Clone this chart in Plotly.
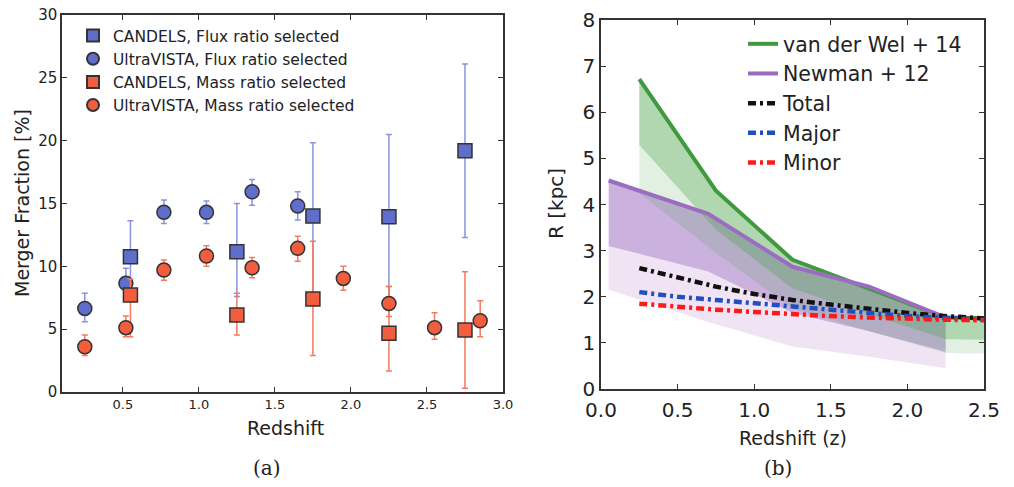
import plotly.graph_objects as go

# ---------------- Panel (a): merger fraction vs redshift ----------------
# CANDELS, flux ratio selected (blue squares)
cf_z = [0.55, 1.25, 1.75, 2.25, 2.75]
cf_f = [10.77, 11.16, 14.0, 13.95, 19.2]
cf_hi = [13.63, 15.0, 19.83, 20.5, 26.1]
cf_lo = [7.9, 7.6, 7.9, 7.5, 12.3]

# UltraVISTA, flux ratio selected (blue circles)
uf_z = [0.25, 0.52, 0.77, 1.05, 1.35, 1.65]
uf_f = [6.65, 8.65, 14.3, 14.3, 15.93, 14.8]
uf_hi = [7.85, 9.84, 15.27, 15.2, 16.9, 15.93]
uf_lo = [5.6, 7.6, 13.4, 13.4, 14.87, 13.68]

# CANDELS, mass ratio selected (orange squares)
cm_z = [0.55, 1.25, 1.75, 2.25, 2.75]
cm_f = [7.72, 6.13, 7.4, 4.67, 4.93]
cm_hi = [9.0, 7.85, 12.0, 8.4, 9.57]
cm_lo = [4.4, 4.53, 2.9, 1.67, 0.3]

# UltraVISTA, mass ratio selected (orange circles)
um_z = [0.25, 0.52, 0.77, 1.05, 1.35, 1.65, 1.95, 2.25, 2.55, 2.85]
um_f = [3.6, 5.12, 9.7, 10.82, 9.89, 11.43, 9.04, 7.05, 5.12, 5.67]
um_hi = [4.53, 6.05, 10.5, 11.64, 10.7, 12.4, 10.0, 8.4, 6.3, 7.26]
um_lo = [2.9, 4.4, 8.9, 10.0, 9.1, 10.4, 8.1, 6.0, 4.2, 4.4]

# ---------------- Panel (b): size evolution ----------------
vdw_z = [0.25, 0.75, 1.25, 1.75, 2.25, 2.75]
vdw_r = [6.72, 4.30, 2.80, 2.18, 1.55, 1.52]
vdw_lo1 = [5.29, 3.45, 2.18, 1.62, 1.08, 1.06]
vdw_lo2 = [4.25, 2.95, 1.75, 1.25, 0.78, 0.76]

new_z = [0.05, 0.70, 1.25, 1.75, 2.25]
new_r = [4.52, 3.80, 2.65, 2.22, 1.55]
new_lo1 = [3.10, 2.55, 1.65, 1.25, 0.81]
new_lo2 = [2.15, 1.45, 0.92, 0.70, 0.45]

mod_z = [0.25, 0.5, 0.75, 1.0, 1.25, 1.5, 1.75, 2.0, 2.25, 2.5]
tot_r = [2.62, 2.42, 2.22, 2.06, 1.93, 1.83, 1.73, 1.65, 1.58, 1.53]
maj_r = [2.10, 2.00, 1.93, 1.86, 1.78, 1.71, 1.64, 1.58, 1.54, 1.50]
min_r = [1.85, 1.78, 1.72, 1.67, 1.62, 1.58, 1.55, 1.52, 1.50, 1.49]

FONT = "DejaVu Sans"
BLUE = "#5f6ecb"
BLUE_ERR = "#8a93dc"
ORANGE = "#f25e3d"
ORANGE_ERR = "#f47a5e"
EDGE = "#333333"

W, H = 1014, 487


def fx(px):
    return px / W


def fy(py):
    return 1 - py / H


fig = go.Figure()


def err_trace(z, f, hi, lo, name, symbol, color, ecolor):
    return go.Scatter(
        x=z, y=f, mode="markers", name=name,
        marker=dict(symbol=symbol, size=14, color=color,
                    line=dict(color=EDGE, width=1.5)),
        error_y=dict(type="data", symmetric=False,
                     array=[h - v for h, v in zip(hi, f)],
                     arrayminus=[v - l for v, l in zip(f, lo)],
                     color=ecolor, thickness=1.5, width=3),
        xaxis="x", yaxis="y", legend="legend")


fig.add_trace(err_trace(cf_z, cf_f, cf_hi, cf_lo, "CANDELS, Flux ratio selected",
                        "square", BLUE, BLUE_ERR))
fig.add_trace(err_trace(uf_z, uf_f, uf_hi, uf_lo, "UltraVISTA, Flux ratio selected",
                        "circle", BLUE, BLUE_ERR))
fig.add_trace(err_trace(cm_z, cm_f, cm_hi, cm_lo, "CANDELS, Mass ratio selected",
                        "square", ORANGE, ORANGE_ERR))
fig.add_trace(err_trace(um_z, um_f, um_hi, um_lo, "UltraVISTA, Mass ratio selected",
                        "circle", ORANGE, ORANGE_ERR))


def band(z, top, bottom, fillcolor):
    return go.Scatter(
        x=list(z) + list(z)[::-1], y=list(top) + list(bottom)[::-1],
        mode="lines", fill="toself", fillcolor=fillcolor,
        line=dict(width=0), hoverinfo="skip", showlegend=False,
        xaxis="x2", yaxis="y2")


# purple bands first, green on top (gives grey overlap)
fig.add_trace(band(new_z, new_lo1, new_lo2, "rgba(180,120,200,0.20)"))
fig.add_trace(band(new_z, new_r, new_lo1, "rgba(150,100,190,0.50)"))
fig.add_trace(band(vdw_z, vdw_lo1, vdw_lo2, "rgba(70,160,70,0.16)"))
fig.add_trace(band(vdw_z, vdw_r, vdw_lo1, "rgba(70,160,70,0.42)"))

fig.add_trace(go.Scatter(x=vdw_z, y=vdw_r, mode="lines", name="van der Wel + 14",
                         line=dict(color="#3f9a3f", width=4),
                         xaxis="x2", yaxis="y2", legend="legend2"))
fig.add_trace(go.Scatter(x=new_z, y=new_r, mode="lines", name="Newman + 12",
                         line=dict(color="#9b6dc2", width=4),
                         xaxis="x2", yaxis="y2", legend="legend2"))

DASH = "8px,4px,3px,4px"
fig.add_trace(go.Scatter(x=mod_z, y=tot_r, mode="lines", name="Total",
                         line=dict(color="#111111", width=4.5, dash=DASH),
                         xaxis="x2", yaxis="y2", legend="legend2"))
fig.add_trace(go.Scatter(x=mod_z, y=maj_r, mode="lines", name="Major",
                         line=dict(color="#1f4fc0", width=4.5, dash=DASH),
                         xaxis="x2", yaxis="y2", legend="legend2"))
fig.add_trace(go.Scatter(x=mod_z, y=min_r, mode="lines", name="Minor",
                         line=dict(color="#ff1a1a", width=4.5, dash=DASH),
                         xaxis="x2", yaxis="y2", legend="legend2"))

axis_common = dict(showline=True, linecolor=EDGE, linewidth=1.5, mirror="ticks",
                   ticks="inside", ticklen=5, tickcolor=EDGE, showgrid=False,
                   zeroline=False, automargin=False, ticklabeloverflow="allow")


def ann(text, px, py, size, family=FONT, angle=0):
    return dict(text=text, x=fx(px), y=fy(py), xref="paper", yref="paper",
                xanchor="center", yanchor="middle", textangle=angle,
                showarrow=False, font=dict(size=size, family=family, color="#222222"))


fig.update_layout(
    width=W, height=H, autosize=False,
    margin=dict(l=0, r=0, t=0, b=0, pad=0, autoexpand=False),
    paper_bgcolor="white", plot_bgcolor="white",
    font=dict(family=FONT, color="#222222"),
    xaxis=dict(domain=[fx(62), fx(503)], range=[0.1, 3.0], tickvals=[0.5, 1.0, 1.5, 2.0, 2.5, 3.0],
               tickformat=".1f", tickfont=dict(size=13), anchor="y", **axis_common),
    yaxis=dict(domain=[fy(392), fy(15)], range=[0, 30], dtick=5,
               tickfont=dict(size=15), anchor="x", **axis_common),
    xaxis2=dict(domain=[fx(601), fx(984)], range=[0, 2.5], dtick=0.5, tickformat=".1f",
                tickfont=dict(size=20), anchor="y2", ticklabelstandoff=2, **axis_common),
    yaxis2=dict(domain=[fy(389), fy(20)], range=[0, 8], dtick=1,
                tickfont=dict(size=20), anchor="x2", **axis_common),
    legend=dict(x=fx(73), y=fy(19), xanchor="left", yanchor="top",
                bgcolor="rgba(0,0,0,0)", font=dict(size=15.5, family=FONT),
                tracegroupgap=0, itemsizing="constant"),
    legend2=dict(x=fx(743), y=fy(24), xanchor="left", yanchor="top",
                 bgcolor="rgba(0,0,0,0)", font=dict(size=20.5, family=FONT),
                 tracegroupgap=0),
    annotations=[
        ann("Merger Fraction [%]", 22, 203, 19, angle=-90),
        ann("Redshift", 285, 428, 19),
        ann("(a)", 267, 468, 20, family="DejaVu Serif"),
        ann("R [kpc]", 556, 204, 20, angle=-90),
        ann("Redshift (z)", 793, 438, 19),
        ann("(b)", 778, 468, 20, family="DejaVu Serif"),
    ],
)

fig.write_html("out.html", config={"displayModeBar": False},
               post_script="document.body.style.margin='0px';")
